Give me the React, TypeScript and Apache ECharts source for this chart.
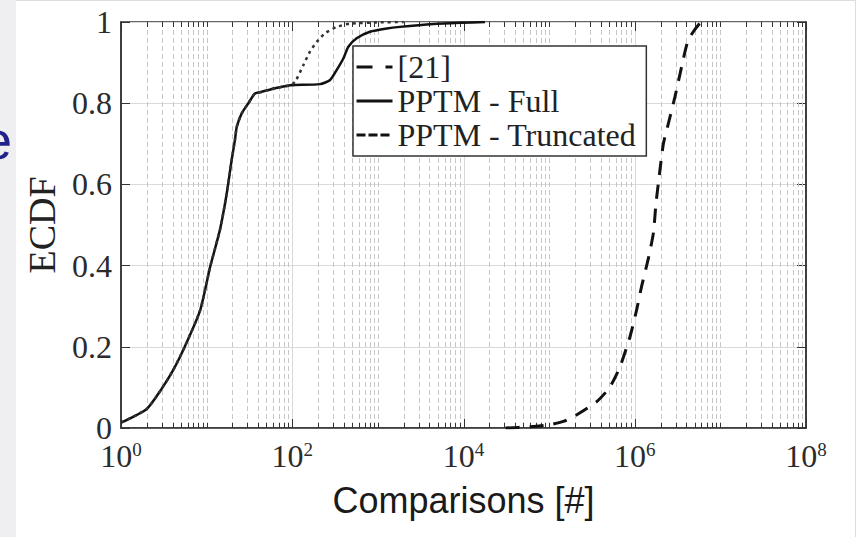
import React, { useEffect, useRef } from 'react';
import * as echarts from 'echarts';

// ---- data ----
const seriesNames = ['[21]', 'PPTM - Full', 'PPTM - Truncated'];

const fullX = [1, 2, 2.93, 4.08, 5.6, 8.4, 11, 14.3, 17.1, 19.6, 21.4, 22.5, 25.7, 30.7, 36.7, 44, 63, 94, 108, 211, 277, 331, 395, 452, 565, 809, 1270, 1810, 4450, 9100, 17800];
const fullY = [0.013, 0.047, 0.094, 0.143, 0.202, 0.29, 0.397, 0.488, 0.575, 0.66, 0.709, 0.742, 0.775, 0.8, 0.824, 0.828, 0.837, 0.844, 0.845, 0.847, 0.857, 0.882, 0.91, 0.939, 0.96, 0.976, 0.984, 0.988, 0.995, 0.998, 1.0];

const truncX = [1, 2, 2.93, 4.08, 5.6, 8.4, 11, 14.3, 17.1, 19.6, 21.4, 22.5, 25.7, 30.7, 36.7, 44, 63, 94, 108, 135, 161, 193, 241, 331, 472, 1000, 2000];
const truncY = [0.013, 0.047, 0.094, 0.143, 0.202, 0.29, 0.397, 0.488, 0.575, 0.66, 0.709, 0.742, 0.775, 0.8, 0.824, 0.828, 0.837, 0.844, 0.853, 0.894, 0.927, 0.951, 0.972, 0.988, 0.996, 0.999, 1.0];

const refX = [3.1e4, 6e4, 1e5, 1.5e5, 2.2e5, 3.6e5, 5.1e5, 6.7e5, 8.8e5, 1.05e6, 1.2e6, 1.45e6, 1.65e6, 1.77e6, 1.93e6, 2.16e6, 2.47e6, 2.95e6, 3.53e6, 4.22e6, 5.8e6, 6.6e6];
const refY = [0, 0.003, 0.008, 0.017, 0.035, 0.065, 0.1, 0.15, 0.225, 0.29, 0.348, 0.42, 0.48, 0.553, 0.62, 0.7, 0.75, 0.816, 0.89, 0.956, 0.998, 1.0];

const xLabelExponents = [0, 2, 4, 6, 8];
const yTickLabels = ['0', '0.2', '0.4', '0.6', '0.8', '1'];

// log-axis tick positions (minor 2..9 x 10^k, decades)
const gridTicks: number[][] = [];
for (let k = 0; k < 8; k++) {
  for (let m = 1; m <= 9; m++) {
    const kind = m === 1 ? (k % 2 === 0 ? 2 : 1) : 0;
    gridTicks.push([m * Math.pow(10, k), 0, kind]);
  }
}
gridTicks.push([1e8, 0, 2]);

const pairs = (xs: number[], ys: number[]) => xs.map((x, i) => [x, ys[i]]);

const SERIF = '"Liberation Serif", "Times New Roman", serif';
const SANS = '"Liberation Sans", Arial, sans-serif';

export default function App() {
  const ref = useRef<HTMLDivElement>(null);
  useEffect(() => {
    if (!ref.current) return;
    const chart = echarts.init(ref.current, undefined, { renderer: 'svg' });
    const option: any = {
      animation: false,
      graphic: [
        { type: 'rect', z: -10, shape: { x: 0, y: 0, width: 16, height: 537 }, style: { fill: '#efeef0' }, silent: true },
        { type: 'line', z: -10, shape: { x1: 16, y1: 0.5, x2: 856, y2: 0.5 }, style: { stroke: '#dedede', lineWidth: 1 }, silent: true },
        { type: 'line', z: -10, shape: { x1: 855.5, y1: 0, x2: 855.5, y2: 537 }, style: { stroke: '#dedede', lineWidth: 1 }, silent: true },
        { type: 'text', z: -5, x: -18, y: 140, style: { text: 'e', font: '54px "Liberation Sans", Arial, sans-serif', fill: '#22228c', verticalAlign: 'middle' }, silent: true },
      ],
      grid: { left: 121, right: 50, top: 22, bottom: 109, show: true, borderColor: '#333', borderWidth: 1.5, backgroundColor: 'transparent' },
      legend: {
        orient: 'vertical', left: 353, top: 46, padding: [4, 10, 4, 2], itemGap: 0, itemWidth: 36, itemHeight: 4,
        backgroundColor: '#fff', borderColor: '#333', borderWidth: 1.5, borderRadius: 0,
        textStyle: { fontFamily: SERIF, fontSize: 32, color: '#222', lineHeight: 34 },
        itemStyle: { opacity: 0 },
        data: [
          { name: seriesNames[0], lineStyle: { type: [16, 13], width: 3, color: '#111' } },
          { name: seriesNames[1], lineStyle: { width: 3, color: '#111' } },
          { name: seriesNames[2], lineStyle: { type: [9, 3], width: 3, color: '#111' } },
        ],
      },
      xAxis: {
        type: 'log', logBase: 10, min: 1, max: 1e8,
        name: 'Comparisons [#]', nameLocation: 'middle', nameGap: 54,
        nameTextStyle: { fontFamily: SANS, fontSize: 36, color: '#1a1a1a' },
        axisLine: { show: true, onZero: false, lineStyle: { color: '#333', width: 1.5 } },
        axisTick: { show: false }, splitLine: { show: false },
        axisLabel: {
          margin: 12, showMinLabel: true, showMaxLabel: true, hideOverlap: false,
          formatter: (v: number) => {
            const e = Math.round(Math.log10(v));
            return xLabelExponents.indexOf(e) >= 0 ? `{b|10}{s|${e}}` : '';
          },
          rich: {
            b: { fontFamily: SERIF, fontSize: 32, lineHeight: 32, color: '#2b2b2b' },
            s: { fontFamily: SERIF, fontSize: 19, lineHeight: 14, verticalAlign: 'top', color: '#2b2b2b' },
          },
        },
      },
      yAxis: [
        {
          type: 'value', min: 0, max: 1, interval: 0.2,
          name: 'ECDF', nameLocation: 'middle', nameGap: 60,
          nameTextStyle: { fontFamily: SERIF, fontSize: 38, color: '#222' },
          axisLine: { show: true, lineStyle: { color: '#333', width: 1.5 } },
          axisTick: { show: true, inside: true, length: 9, lineStyle: { color: '#333', width: 1 } },
          axisLabel: { margin: 9, fontFamily: SERIF, fontSize: 32, color: '#2b2b2b', formatter: (v: number) => yTickLabels[Math.round(v / 0.2)] },
          splitLine: { show: true, lineStyle: { color: '#dadada', width: 1 } },
        },
        {
          type: 'value', min: 0, max: 1, interval: 0.2, position: 'right',
          axisLine: { show: true, lineStyle: { color: '#333', width: 1.5 } },
          axisTick: { show: true, inside: true, length: 9, lineStyle: { color: '#333', width: 1 } },
          axisLabel: { show: false }, splitLine: { show: false },
        },
      ],
      series: [
        {
          type: 'custom', name: 'grid', silent: true, z: 1, yAxisIndex: 0,
          encode: { x: 0, y: 1 },
          data: gridTicks,
          renderItem: (params: any, api: any) => {
            const v = api.value(0);
            const kind = api.value(2);
            const b = api.coord([v, 0]);
            const t = api.coord([v, 1]);
            const x = Math.round(b[0]) + 0.5;
            const children: any[] = [];
            if (v > 1.0001 && v < 0.9999e8) {
              children.push({
                type: 'line', shape: { x1: x, y1: t[1], x2: x, y2: b[1] },
                style: kind === 2 ? { stroke: '#d8d8d8', lineWidth: 1 } : { stroke: '#c6c6c6', lineWidth: 1, lineDash: [5, 3] },
              });
            }
            const len = kind === 2 ? 9 : 5;
            children.push({ type: 'line', shape: { x1: x, y1: b[1], x2: x, y2: b[1] - len }, style: { stroke: '#333', lineWidth: 1 } });
            children.push({ type: 'line', shape: { x1: x, y1: t[1], x2: x, y2: t[1] + len }, style: { stroke: '#333', lineWidth: 1 } });
            return { type: 'group', children };
          },
        },
        {
          type: 'line', name: seriesNames[0], yAxisIndex: 0, z: 3, symbol: 'none', smooth: 0.2,
          data: pairs(refX, refY),
          lineStyle: { color: '#111', width: 3, type: [14, 10] }, itemStyle: { color: '#111' },
        },
        {
          type: 'line', name: seriesNames[1], yAxisIndex: 0, z: 3, symbol: 'none', smooth: 0.2,
          data: pairs(fullX, fullY),
          lineStyle: { color: '#111', width: 2.5 }, itemStyle: { color: '#111' },
        },
        {
          type: 'line', name: seriesNames[2], yAxisIndex: 0, z: 4, symbol: 'none', smooth: 0.2,
          data: pairs(truncX, truncY),
          lineStyle: { color: '#333', width: 2.5, type: [3, 4] }, itemStyle: { color: '#333' },
        },
      ],
    };
    chart.setOption(option);
    return () => chart.dispose();
  }, []);
  return <div ref={ref} style={{ position: 'absolute', left: 0, top: 0, width: 856, height: 537 }} />;
}
